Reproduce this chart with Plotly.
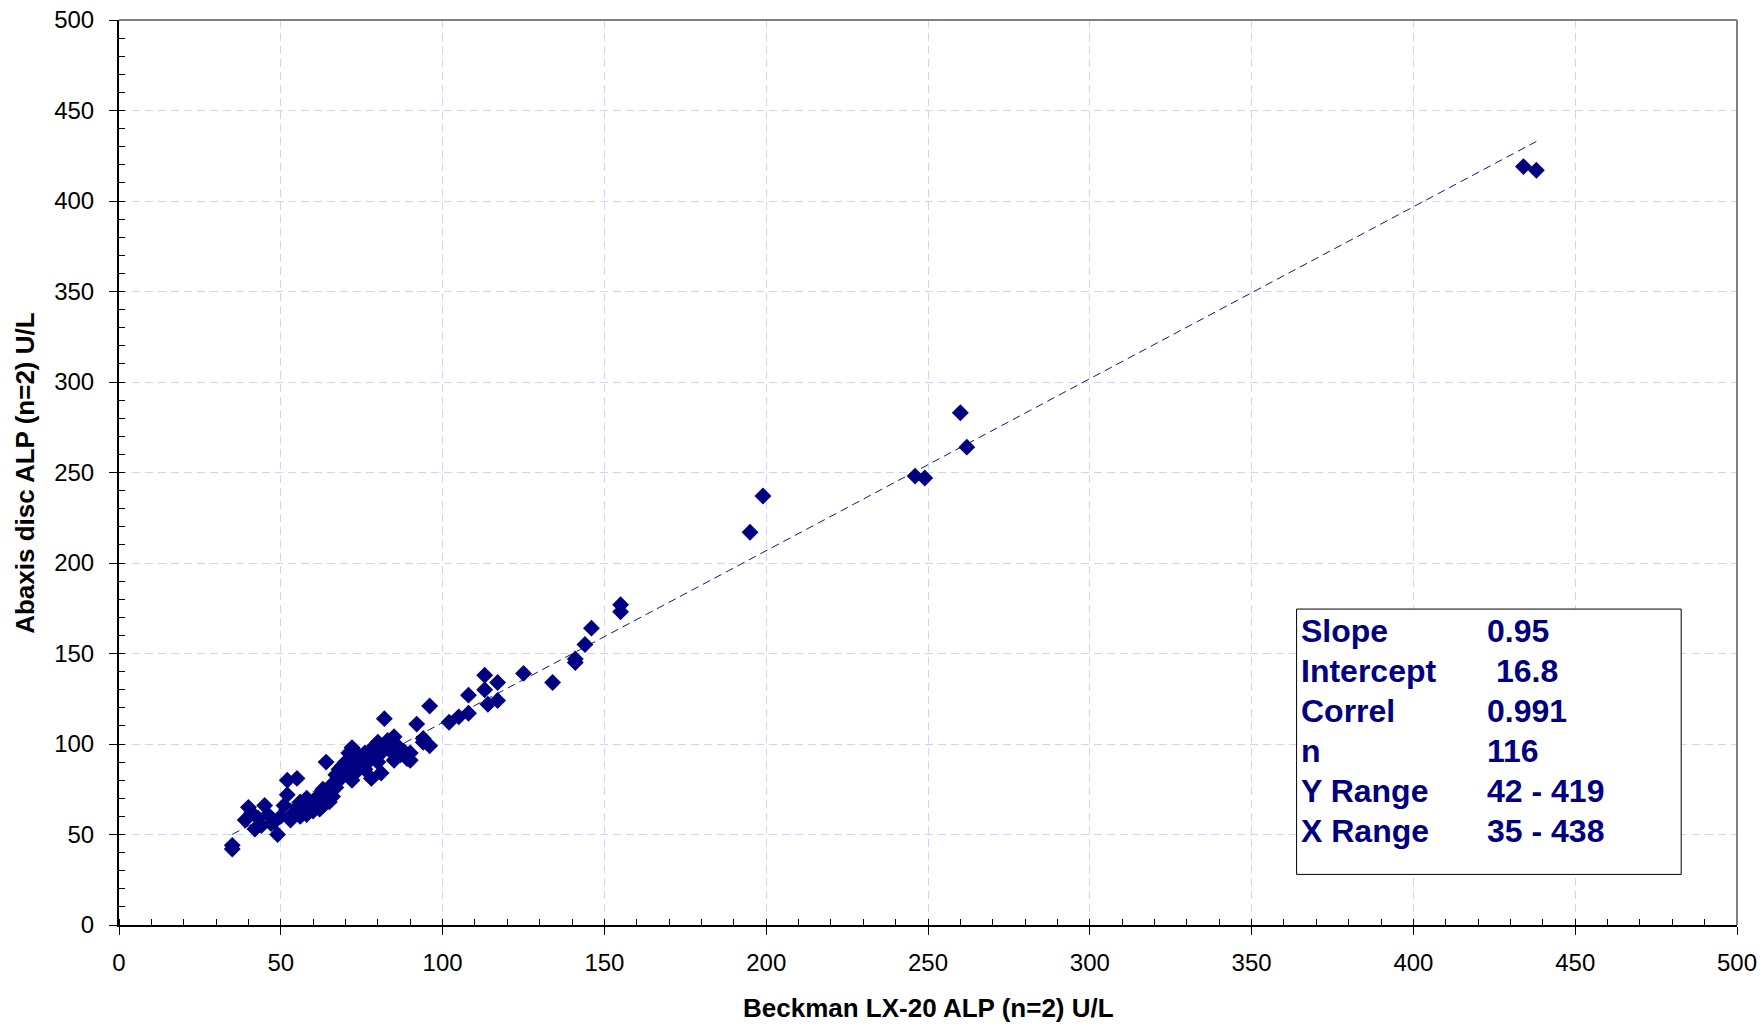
import plotly.graph_objects as go

# ---- data ----
beckman_x = [434, 438, 260, 262, 246, 249, 199, 195, 155, 155,
             146, 144, 141, 141, 134, 125, 113, 117, 113, 108,
             117, 114, 108, 105, 102, 96, 92, 94, 96, 94,
             90, 87, 85, 82, 85, 83, 81, 78, 78, 80,
             75, 72, 73, 72, 74, 69, 67, 66, 65, 64,
             63, 61, 59, 58, 56, 55, 52, 52, 51, 50,
             49, 47, 45, 43, 42, 40, 39, 35, 35, 90,
             60, 62, 63, 64, 65, 66, 67, 68, 69, 70,
             70, 71, 72, 73, 74, 75, 76, 77, 78, 79,
             80, 81, 82, 83, 84, 86, 88, 57, 58, 60,
             61, 62, 54, 55, 53, 56, 48, 46, 44, 41,
             68, 71, 76, 80, 85, 89]
abaxis_y = [419, 417, 283, 264, 248, 247, 237, 217, 177, 173,
            164, 155, 147, 145, 134, 139, 138, 134, 130, 127,
            124, 122, 117, 115, 112, 121, 111, 103, 99, 101,
            91, 94, 91, 114, 104, 99, 84, 81, 93, 97,
            88, 98, 84, 80, 94, 88, 83, 78, 68, 90,
            75, 70, 65, 61, 68, 81, 80, 72, 66, 60,
            50, 56, 66, 59, 53, 65, 58, 42, 44, 95,
            68, 72, 66, 70, 73, 71, 76, 80, 82, 85,
            90, 87, 92, 90, 88, 92, 95, 90, 96, 99,
            101, 95, 98, 102, 96, 99, 96, 64, 70, 63,
            66, 64, 62, 65, 58, 60, 57, 61, 55, 62,
            86, 95, 86, 90, 95, 92]

slope = 0.95
intercept = 16.8
fit_x = [35, 438]
fit_y = [slope * v + intercept for v in fit_x]

stat_labels = ["Slope", "Intercept", "Correl", "n", "Y Range", "X Range"]
stat_values = ["0.95", "\u00a016.8", "0.991", "116", "42 - 419", "35 - 438"]

x_title = "Beckman LX-20 ALP (n=2) U/L"
y_title = "Abaxis disc ALP (n=2) U/L"

NAVY = "#000080"
FONT = "Liberation Sans, Arial, sans-serif"

fig = go.Figure()
fig.add_trace(go.Scatter(x=fit_x, y=fit_y, mode="lines",
                         line=dict(color="#14147f", width=1, dash="8px,5px"),
                         showlegend=False, hoverinfo="skip"))
fig.add_trace(go.Scatter(x=beckman_x, y=abaxis_y, mode="markers",
                         marker=dict(symbol="diamond", size=13, color=NAVY),
                         showlegend=False))
# overlay axes only carry the inner half of the major ticks
fig.add_trace(go.Scatter(x=[None], y=[None], xaxis="x2", yaxis="y2",
                         showlegend=False, hoverinfo="skip"))

axis_common = dict(range=[0, 500], dtick=50, tick0=0, showline=True,
                   linecolor="#000000", linewidth=2, zeroline=False,
                   showgrid=True, gridcolor="#d2d2ff", gridwidth=1,
                   griddash="8px,5px", ticks="outside", ticklen=8,
                   tickwidth=1, tickcolor="#000000", automargin=False,
                   ticklabeloverflow="allow",
                   tickfont=dict(family=FONT, size=24, color="#000000"),
                   minor=dict(dtick=10, ticks="inside", ticklen=6,
                              tickwidth=1, tickcolor="#000000", showgrid=False))

overlay_common = dict(range=[0, 500], dtick=50, tick0=0, automargin=False,
                      ticks="inside", ticklen=6, tickcolor="#000000", tickwidth=1,
                      showticklabels=False, showgrid=False, zeroline=False,
                      showline=False)

fig.update_layout(
    width=1762, height=1025,
    margin=dict(l=119, r=25, t=20, b=100),
    paper_bgcolor="white", plot_bgcolor="white",
    font=dict(family=FONT, color="#000000"),
    xaxis=dict(**axis_common, ticklabelstandoff=7),
    yaxis=dict(**axis_common, ticklabelstandoff=10),
    xaxis2=dict(**overlay_common, overlaying="x", side="bottom"),
    yaxis2=dict(**overlay_common, overlaying="y", side="left"),
)

# axis titles
fig.add_annotation(xref="paper", yref="paper", x=0.5, y=-0.0917,
                   xanchor="center", yanchor="middle", showarrow=False,
                   text="<b>" + x_title + "</b>",
                   font=dict(family=FONT, size=26, color="#000000"))
fig.add_annotation(xref="paper", yref="paper", x=-0.0585, y=0.5,
                   xanchor="center", yanchor="middle", showarrow=False,
                   textangle=-90, text="<b>" + y_title + "</b>",
                   font=dict(family=FONT, size=26, color="#000000"))

# gray frame on top and right
fig.add_shape(type="line", xref="paper", yref="paper", x0=0, x1=1, y0=1, y1=1,
              line=dict(color="#808080", width=2), layer="above")
fig.add_shape(type="line", xref="paper", yref="paper", x0=1, x1=1, y0=0, y1=1,
              line=dict(color="#808080", width=2), layer="above")

# statistics box
fig.add_shape(type="rect", xref="paper", yref="paper",
              x0=0.7278, x1=0.9655, y0=0.0559, y1=0.3491,
              line=dict(color="#000000", width=1), fillcolor="white", layer="above")

row_y0 = 0.3245
row_step = 40 / 905
for i, (lab, val) in enumerate(zip(stat_labels, stat_values)):
    yy = row_y0 - i * row_step
    fig.add_annotation(xref="paper", yref="paper", x=0.7295, y=yy,
                       xanchor="left", yanchor="middle", showarrow=False,
                       text="<b>" + lab + "</b>",
                       font=dict(family=FONT, size=32, color=NAVY))
    fig.add_annotation(xref="paper", yref="paper", x=0.8445, y=yy,
                       xanchor="left", yanchor="middle", showarrow=False,
                       text="<b>" + val + "</b>",
                       font=dict(family=FONT, size=32, color=NAVY))

fig.write_html("out.html")
